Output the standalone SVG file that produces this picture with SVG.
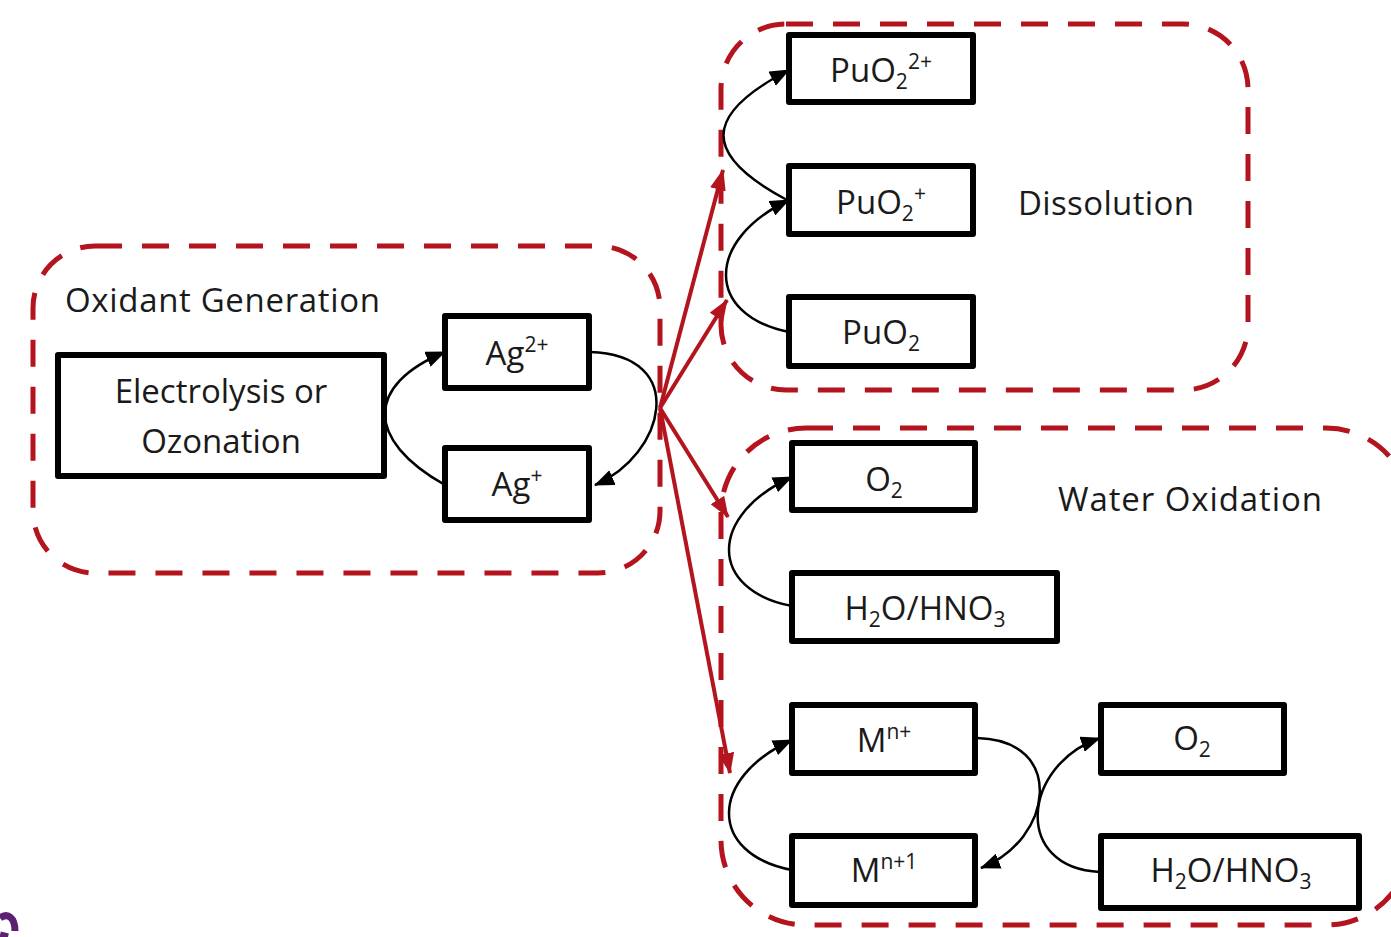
<svg xmlns="http://www.w3.org/2000/svg" width="1391" height="937" viewBox="0 0 1391 937">
<style>
.grp{fill:none;stroke:#B4141E;stroke-width:5;stroke-dasharray:27 20}
.box{fill:#fff;stroke:#000;stroke-width:6;stroke-linejoin:round}
.lbl{font-family:"Open Sans","Noto Sans",sans-serif;font-size:33px;fill:#1a1a1a}
.s{font-size:21px}
.arc{fill:none;stroke:#000;stroke-width:2.5}
.red{fill:none;stroke:#B4141E;stroke-width:4}
</style>
<defs>
<marker id="ab" viewBox="0 0 20 16" refX="19" refY="8" markerWidth="20" markerHeight="16" markerUnits="userSpaceOnUse" orient="auto"><path d="M0,0 L20,8 L0,16 z" fill="#000"/></marker>
<marker id="ar" viewBox="0 0 21 16" refX="20" refY="8" markerWidth="21" markerHeight="16" markerUnits="userSpaceOnUse" orient="auto"><path d="M0,0 L21,8 L0,16 z" fill="#B4141E"/></marker>
</defs>
<g id="groups">
<rect id="oxidant-group" class="grp" x="33" y="246" width="627" height="327" rx="62"/>
<rect id="dissolution-group" class="grp" x="721" y="24" width="527" height="366" rx="65"/>
<rect id="water-group" class="grp" x="721" y="428" width="690" height="497" rx="85"/>
<text class="lbl" x="65" y="312" textLength="315" lengthAdjust="spacing">Oxidant Generation</text>
<text class="lbl" x="1018" y="215" textLength="176" lengthAdjust="spacing">Dissolution</text>
<text class="lbl" x="1058" y="511" textLength="264" lengthAdjust="spacing">Water Oxidation</text>
</g>
<g id="connectors">
<path class="arc" d="M445,485 C365,440 365,385 445,352" marker-end="url(#ab)"/>
<path class="arc" d="M590,352 C690,355 665,455 595,485" marker-end="url(#ab)"/>
<path class="arc" d="M787,200 C702,155 702,115 789,70" marker-end="url(#ab)"/>
<path class="arc" d="M789,332 C705,315 705,240 789,200" marker-end="url(#ab)"/>
<path class="arc" d="M792,606 C708,590 708,515 792,477" marker-end="url(#ab)"/>
<path class="arc" d="M792,870 C708,854 708,778 792,740" marker-end="url(#ab)"/>
<path class="arc" d="M977,738 C1067,740 1053,840 981,868" marker-end="url(#ab)"/>
<path class="arc" d="M1100,872 C1012,868 1022,765 1100,738" marker-end="url(#ab)"/>
<path class="red" d="M660,408 L723,170" marker-end="url(#ar)"/>
<path class="red" d="M660,408 L727,300" marker-end="url(#ar)"/>
<path class="red" d="M660,408 L728,517" marker-end="url(#ar)"/>
<path class="red" d="M660,408 L730,773" marker-end="url(#ar)"/>
</g>
<g id="electrolysis">
<rect class="box" x="58" y="355" width="326" height="121"/>
<text class="lbl" x="221" y="403" text-anchor="middle">Electrolysis or</text>
<text class="lbl" x="221" y="453" text-anchor="middle">Ozonation</text>
</g>
<g id="ag2">
<rect class="box" x="445" y="316" width="144" height="72"/>
<text class="lbl" x="517" y="365" text-anchor="middle">Ag<tspan class="s" dy="-13">2+</tspan></text>
</g>
<g id="ag1">
<rect class="box" x="445" y="448" width="144" height="72"/>
<text class="lbl" x="517" y="496" text-anchor="middle">Ag<tspan class="s" dy="-13">+</tspan></text>
</g>
<g id="puo2-2">
<rect class="box" x="789" y="35" width="184" height="67"/>
<text class="lbl" x="881" y="82" text-anchor="middle">PuO<tspan class="s" dy="7">2</tspan><tspan class="s" dy="-20">2+</tspan></text>
</g>
<g id="puo2-1">
<rect class="box" x="789" y="166" width="184" height="68"/>
<text class="lbl" x="881" y="214" text-anchor="middle">PuO<tspan class="s" dy="7">2</tspan><tspan class="s" dy="-20">+</tspan></text>
</g>
<g id="puo2">
<rect class="box" x="789" y="297" width="184" height="69"/>
<text class="lbl" x="881" y="344" text-anchor="middle">PuO<tspan class="s" dy="7">2</tspan></text>
</g>
<g id="o2-a">
<rect class="box" x="792" y="443" width="183" height="67"/>
<text class="lbl" x="884" y="491" text-anchor="middle">O<tspan class="s" dy="7">2</tspan></text>
</g>
<g id="h2o-a">
<rect class="box" x="792" y="573" width="265" height="68"/>
<text class="lbl" x="925" y="620" text-anchor="middle">H<tspan class="s" dy="7">2</tspan><tspan dy="-7">O/HNO</tspan><tspan class="s" dy="7">3</tspan></text>
</g>
<g id="mn">
<rect class="box" x="792" y="705" width="183" height="68"/>
<text class="lbl" x="884" y="752" text-anchor="middle">M<tspan class="s" dy="-13">n+</tspan></text>
</g>
<g id="mn1">
<rect class="box" x="792" y="836" width="183" height="69"/>
<text class="lbl" x="884" y="882" text-anchor="middle">M<tspan class="s" dy="-13">n+1</tspan></text>
</g>
<g id="o2-b">
<rect class="box" x="1101" y="705" width="183" height="68"/>
<text class="lbl" x="1192" y="750" text-anchor="middle">O<tspan class="s" dy="7">2</tspan></text>
</g>
<g id="h2o-b">
<rect class="box" x="1101" y="836" width="258" height="72"/>
<text class="lbl" x="1231" y="882" text-anchor="middle">H<tspan class="s" dy="7">2</tspan><tspan dy="-7">O/HNO</tspan><tspan class="s" dy="7">3</tspan></text>
</g>
<path d="M0,918 C8,912 15,918 15,931 M0,935 L8,937" fill="none" stroke="#5b2170" stroke-width="7"/>
</svg>
